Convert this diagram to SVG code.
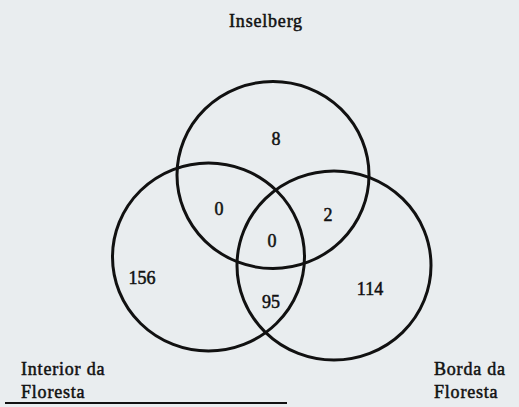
<svg xmlns="http://www.w3.org/2000/svg" width="519" height="407" viewBox="0 0 519 407">
<style>
.c{fill:none;stroke:#111;stroke-width:3}
.t{font-family:"Liberation Serif","Times New Roman",serif;font-size:18px;fill:#111;stroke:#111;stroke-width:0.5;letter-spacing:0.8px}
.n{font-family:"Liberation Serif","Times New Roman",serif;font-size:18px;fill:#111;stroke:#111;stroke-width:0.5;text-anchor:middle}
</style>
<rect width="519" height="407" fill="#e9edef"/>
<g id="inselberg">
<ellipse class="c" cx="273" cy="175" rx="96" ry="93.5"/>
<text class="t" x="266" y="27" text-anchor="middle">Inselberg</text>
</g>
<g id="interior">
<ellipse class="c" cx="208.5" cy="257" rx="96" ry="94"/>
<text class="t" x="21" y="375">Interior da</text>
<text class="t" x="21" y="398">Floresta</text>
</g>
<g id="borda">
<ellipse class="c" cx="334" cy="265.5" rx="97" ry="94.5"/>
<text class="t" x="434" y="375">Borda da</text>
<text class="t" x="434" y="398">Floresta</text>
</g>
<g id="counts">
<text class="n" x="276" y="145">8</text>
<text class="n" x="219" y="215">0</text>
<text class="n" x="328" y="221">2</text>
<text class="n" x="272" y="247">0</text>
<text class="n" x="142" y="284">156</text>
<text class="n" x="271" y="308">95</text>
<text class="n" x="370" y="295">114</text>
</g>
<g id="connectors">
<line x1="5" y1="403" x2="287" y2="403" stroke="#111" stroke-width="2"/>
</g>
</svg>
